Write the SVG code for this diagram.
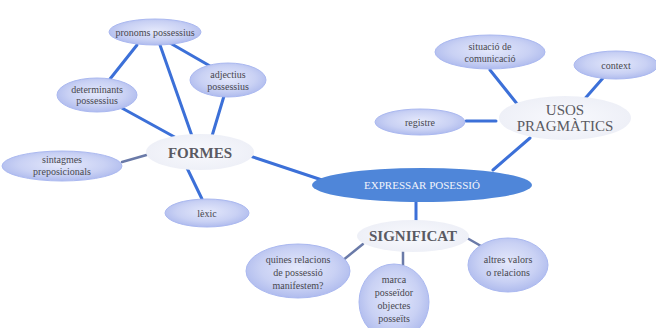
<svg xmlns="http://www.w3.org/2000/svg" width="656" height="328" viewBox="0 0 656 328">
<defs>
<radialGradient id="g" cx="50%" cy="45%" r="60%">
<stop offset="0" stop-color="#e4e8fb"/>
<stop offset="0.6" stop-color="#c9d1f4"/>
<stop offset="1" stop-color="#a9b6ec"/>
</radialGradient>
<radialGradient id="p" cx="50%" cy="50%" r="60%">
<stop offset="0" stop-color="#f8f9fd"/>
<stop offset="1" stop-color="#eceef6"/>
</radialGradient>
<style>
.leaf{fill:url(#g);stroke:#aab8f0;stroke-width:1}
.pale{fill:url(#p);stroke:none}
.t{font-family:"Liberation Serif","DejaVu Serif",serif;font-size:10px;fill:#48484f;text-anchor:middle}
.big{font-family:"Liberation Serif","DejaVu Serif",serif;font-size:15px;fill:#5a5a62;text-anchor:middle}
.b{font-weight:bold}
.c line{stroke:#3c70d8;stroke-width:3;stroke-linecap:round}
.c line.g{stroke:#6a7aa8;stroke-width:2.5}
</style>
</defs>
<rect width="656" height="328" fill="#ffffff"/>
<g class="c" id="connectors">
<line x1="137" y1="45" x2="110" y2="79"/>
<line x1="170" y1="43" x2="210" y2="66"/>
<line x1="160" y1="45" x2="192" y2="136"/>
<line x1="120" y1="107" x2="180" y2="140"/>
<line x1="224" y1="96" x2="212" y2="136"/>
<line class="g" x1="122" y1="162" x2="150" y2="154"/>
<line x1="187" y1="168" x2="202" y2="199"/>
<line x1="250" y1="156" x2="322" y2="180"/>
<line x1="493" y1="170" x2="530" y2="138"/>
<line x1="490" y1="70" x2="518" y2="105"/>
<line x1="603" y1="78" x2="582" y2="102"/>
<line x1="466" y1="121" x2="496" y2="121"/>
<line x1="416" y1="202" x2="416" y2="222"/>
<line class="g" x1="363" y1="244" x2="342" y2="261"/>
<line class="g" x1="403" y1="250" x2="403" y2="270"/>
<line class="g" x1="467" y1="238" x2="481" y2="246"/>
</g>
<g id="pronoms">
<ellipse class="leaf" cx="155" cy="32" rx="46" ry="13"/>
<text class="t" x="155" y="36">pronoms possessius</text>
</g>
<g id="determinants">
<ellipse class="leaf" cx="97" cy="95" rx="40" ry="17"/>
<text class="t" x="97" y="93">determinants</text>
<text class="t" x="97" y="104">possessius</text>
</g>
<g id="adjectius">
<ellipse class="leaf" cx="228" cy="80" rx="38" ry="17"/>
<text class="t" x="228" y="78">adjectius</text>
<text class="t" x="228" y="90">possessius</text>
</g>
<g id="formes">
<ellipse class="pale" cx="200" cy="152" rx="54" ry="18"/>
<text class="big b" x="200" y="158">FORMES</text>
</g>
<g id="sintagmes">
<ellipse class="leaf" cx="62" cy="166" rx="60" ry="15"/>
<text class="t" x="62" y="163">sintagmes</text>
<text class="t" x="62" y="175">preposicionals</text>
</g>
<g id="lexic">
<ellipse class="leaf" cx="207" cy="213" rx="42" ry="14"/>
<text class="t" x="207" y="217">lèxic</text>
</g>
<g id="situacio">
<ellipse class="leaf" cx="490" cy="52" rx="55" ry="17"/>
<text class="t" x="490" y="50">situació de</text>
<text class="t" x="490" y="62">comunicació</text>
</g>
<g id="context">
<ellipse class="leaf" cx="616" cy="65" rx="42" ry="14"/>
<text class="t" x="616" y="69">context</text>
</g>
<g id="registre">
<ellipse class="leaf" cx="420" cy="122" rx="45" ry="13"/>
<text class="t" x="420" y="126">registre</text>
</g>
<g id="usos">
<ellipse class="pale" cx="565" cy="118" rx="66" ry="22"/>
<text class="big" x="565" y="115">USOS</text>
<text class="big" x="565" y="131">PRAGMÀTICS</text>
</g>
<g id="expressar">
<ellipse cx="422" cy="185" rx="110" ry="17" fill="#4f86d9"/>
<text x="422" y="189" font-family="Liberation Serif, DejaVu Serif, serif" font-size="11" fill="#f2f4fb" text-anchor="middle">EXPRESSAR POSESSIÓ</text>
</g>
<g id="significat">
<ellipse class="pale" cx="413" cy="236" rx="56" ry="16"/>
<text class="big b" x="413" y="241">SIGNIFICAT</text>
</g>
<g id="quines">
<ellipse class="leaf" cx="298" cy="271" rx="52" ry="27"/>
<text class="t" x="298" y="263">quines relacions</text>
<text class="t" x="298" y="276">de possessió</text>
<text class="t" x="298" y="289">manifestem?</text>
</g>
<g id="marca">
<ellipse class="leaf" cx="394" cy="302" rx="35" ry="38"/>
<text class="t" x="394" y="283">marca</text>
<text class="t" x="394" y="296">posseïdor</text>
<text class="t" x="394" y="309">objectes</text>
<text class="t" x="394" y="322">posseïts</text>
</g>
<g id="altres">
<ellipse class="leaf" cx="508" cy="265" rx="40" ry="27"/>
<text class="t" x="508" y="263">altres valors</text>
<text class="t" x="508" y="276">o relacions</text>
</g>
</svg>
